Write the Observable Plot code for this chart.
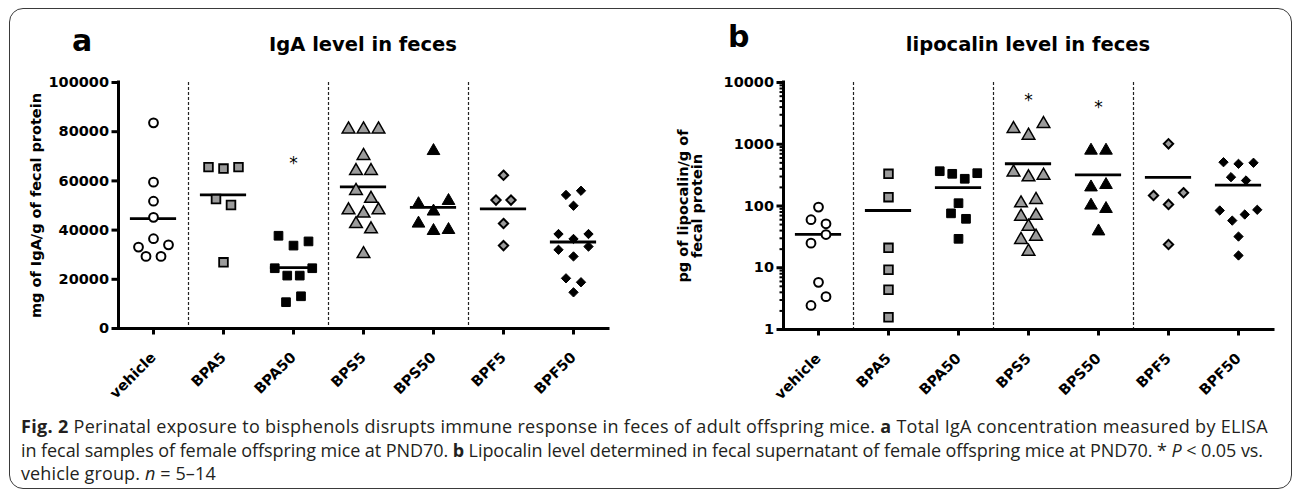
<!DOCTYPE html>
<html><head><meta charset="utf-8">
<script src="https://cdn.jsdelivr.net/npm/d3@7"></script>
<script src="https://cdn.jsdelivr.net/npm/@observablehq/plot@0.6"></script>
<style>
html,body{margin:0;background:#fff;}
body{width:1295px;height:496px;overflow:hidden;position:relative;}
#frame{position:absolute;left:9px;top:8px;width:1281px;height:479px;border:1.5px solid #3a3a3a;border-radius:14px;}
.panel{position:absolute;top:60px;}
.letter{position:absolute;font:bold 30px "DejaVu Sans";line-height:30px;color:#000;}
.title{position:absolute;font:bold 19.5px "DejaVu Sans";line-height:20px;transform:translateX(-50%);white-space:nowrap;color:#000;}
#caption{position:absolute;left:21px;top:415px;font:18px "Open Sans";line-height:23.5px;color:#231f20;white-space:nowrap;}
#caption div{height:23.5px;}
</style></head><body>
<div id="frame"></div>
<div class="letter" style="left:72px;top:26px">a</div>
<div class="title" style="left:363px;top:35px">IgA level in feces</div>
<div class="letter" style="left:728px;top:22px">b</div>
<div class="title" style="left:1028px;top:35px">lipocalin level in feces</div>
<div class="panel" id="pa" style="left:0px"></div>
<div class="panel" id="pb" style="left:647px"></div>
<div id="caption">
<div><span class="cl"><b>Fig. 2</b> Perinatal exposure to bisphenols disrupts immune response in feces of adult offspring mice. <b>a</b> Total IgA concentration measured by ELISA</span></div>
<div><span class="cl">in fecal samples of female offspring mice at PND70. <b>b</b> Lipocalin level determined in fecal supernatant of female offspring mice at PND70. * <i>P</i> &lt; 0.05 vs.</span></div>
<div><span class="cl">vehicle group. <i>n</i> = 5–14</span></div>
</div>
<script>
// ---- categories ----
const groups = ["vehicle", "BPA5", "BPA50", "BPS5", "BPS50", "BPF5", "BPF50"];

// ---- panel a: IgA (mg of IgA/g of fecal protein) ----
const igaVehicle = [83600, 59500, 51750, 45200, 33100, 36500, 34000, 29300, 29300];
const igaBPA5    = [65600, 65000, 65600, 52600, 50200, 26900];
const igaBPA50   = [37700, 33700, 35400, 24500, 21500, 21500, 24500, 10700, 13100];
const igaBPS5    = [81000, 81000, 81000, 70200, 64100, 64100, 56000, 52800, 48100, 46800, 48100, 42500, 40400, 30300];
const igaBPS50   = [72200, 50600, 47600, 51900, 42700, 39700, 40100];
const igaBPF5    = [62300, 52200, 52200, 42700, 33700];
const igaBPF50   = [54300, 56000, 49900, 38400, 36400, 38400, 32000, 29300, 33300, 20400, 18800, 14700];
const igaTicks   = [0, 20000, 40000, 60000, 80000, 100000];
const igaSigGroups = ["BPA50"];
const igaSigValues = [68000];

// ---- panel b: lipocalin (pg of lipocalin/g of fecal protein) ----
const lcnVehicle = [96, 60, 51.5, 25, 34.5, 5.8, 2.45, 3.4];
const lcnBPA5    = [332, 139, 21, 9.3, 4.4, 1.58];
const lcnBPA50   = [366, 332, 276, 340, 111, 76, 62, 29.4];
const lcnBPS5    = [1778, 1387, 2143, 352, 293, 312, 111, 126, 67.6, 70, 46.5, 28.4, 32, 18.3];
const lcnBPS50   = [792, 792, 201, 220, 102, 90, 39];
const lcnBPF5    = [1016, 148, 106, 164, 23.8];
const lcnBPF50   = [512, 482, 501, 293, 259, 84.6, 58, 72.8, 86.8, 32, 15.8];
const lcnTicks   = [1, 10, 100, 1000, 10000];
const lcnSigGroups = ["BPS5", "BPS50"];
const lcnSigValues = [5450, 4240];

// ---- styles ----
const GRAY = "#9b9b9b";
const FONT = "DejaVu Sans";
const styles = {
  vehicle: {symbol: "circle",   fill: "white", stroke: "black", r: 4.4, strokeWidth: 2},
  BPA5:    {symbol: "square",   fill: GRAY,    stroke: "black", r: 4.9, strokeWidth: 1.8},
  BPA50:   {symbol: "square",   fill: "black", stroke: "black", r: 4.9, strokeWidth: 1},
  BPS5:    {symbol: "triangle", fill: GRAY,    stroke: "black", r: 4.7, strokeWidth: 1.5},
  BPS50:   {symbol: "triangle", fill: "black", stroke: "black", r: 4.7, strokeWidth: 1},
  BPF5:    {symbol: "diamond2", fill: GRAY,    stroke: "black", r: 4.2, strokeWidth: 2},
  BPF50:   {symbol: "diamond2", fill: "black", stroke: "black", r: 4.2, strokeWidth: 1}
};

const H = 350;

// row-based column-scatter layout: returns pixel offsets
function swarmOffsets(values, yPix) {
  const py = values.map(v => yPix(v));
  const order = d3.range(values.length).sort((a, b) => py[a] - py[b] || a - b);
  const rows = [];
  let row = null, start = 0, prev = 0;
  for (const k of order) {
    if (!row || py[k] - prev > 9.5 || py[k] - start > 12) { row = []; rows.push(row); start = py[k]; }
    row.push(k); prev = py[k];
  }
  const off = new Array(values.length).fill(0);
  for (const r of rows) {
    r.sort((a, b) => a - b);
    const s = r.length >= 4 ? 12.5 : 15;
    r.forEach((k, j) => off[k] = (j - (r.length - 1) / 2) * s);
  }
  return off;
}

function makePanel({series, log, ticks, label, labelOffset, sigGroups, sigValues, width, ml, mr, mt, mb}) {
  const plotH = H - mt - mb;
  const band = (width - ml - mr) / groups.length;
  const domain = log ? [1, 10000] : [0, 100000];
  const yPix = (log ? d3.scaleLog() : d3.scaleLinear()).domain(domain).range([plotH, 0]);
  const rows = [];
  series.forEach((vals, i) => {
    const off = swarmOffsets(vals, yPix);
    vals.forEach((v, j) => rows.push({group: groups[i], i, value: v, x: i + off[j] / band}));
  });
  const means = series.map((vals, i) => ({i, mean: d3.mean(vals)}));
  const separators = groups.map((g, i) => i).filter(i => i > 0 && groups[i].slice(0, 3) !== groups[i - 1].slice(0, 3)).map(i => i - 0.5);
  const sig = sigGroups.map((g, k) => ({i: groups.indexOf(g), value: sigValues[k]}));
  const minor = log ? d3.range(0, 4).flatMap(e => d3.range(2, 10).map(m => m * 10 ** e)) : [];
  const textStyle = {fontFamily: FONT, fontWeight: "bold", fontSize: 14.5};
  const marks = [
    Plot.ruleX(separators, {stroke: "#222", strokeWidth: 1.2, strokeDasharray: "3,2"}),
    Plot.ruleY(means, {y: "mean", x1: d => d.i - 0.33, x2: d => d.i + 0.33, stroke: "black", strokeWidth: 2.8}),
    ...groups.map(g => Plot.dot(rows.filter(d => d.group === g), {x: "x", y: "value", ...styles[g]})),
    Plot.text(sig, {x: "i", y: "value", text: () => "*", fontFamily: FONT, fontSize: 17, fontWeight: "normal", dy: 2}),
  ];
  if (log) marks.push(Plot.axisY(minor, {tickSize: 3.5, strokeWidth: 2, tickFormat: () => "", label: null}));
  marks.push(
    Plot.axisY(ticks, {...textStyle, tickSize: 6.5, tickPadding: 3, strokeWidth: 3, tickFormat: d => String(d),
      label, labelAnchor: "center", labelOffset, labelArrow: false}),
    Plot.axisX(groups.map((g, i) => i), {...textStyle, tickFormat: i => groups[i], tickRotate: -45, tickSize: 6.5, tickPadding: 20, strokeWidth: 3, label: null}),
    Plot.ruleX([-0.5], {stroke: "black", strokeWidth: 3, strokeLinecap: "square"}),
    Plot.ruleY([domain[0]], {stroke: "black", strokeWidth: 3, strokeLinecap: "square"})
  );
  return Plot.plot({
    width, height: H, marginTop: mt, marginBottom: mb, marginLeft: ml, marginRight: mr,
    style: {fontFamily: FONT, fontWeight: "bold", fontSize: "14.5px", color: "black", background: "transparent", overflow: "visible"},
    x: {domain: [-0.5, groups.length - 0.5]},
    y: log ? {type: "log", domain} : {domain},
    marks
  });
}

document.getElementById("pa").append(makePanel({
  series: [igaVehicle, igaBPA5, igaBPA50, igaBPS5, igaBPS50, igaBPF5, igaBPF50],
  log: false, ticks: igaTicks, label: "mg of IgA/g of fecal protein", labelOffset: 88,
  sigGroups: igaSigGroups, sigValues: igaSigValues,
  width: 647, ml: 118, mr: 39, mt: 22, mb: 82
}));
document.getElementById("pb").append(makePanel({
  series: [lcnVehicle, lcnBPA5, lcnBPA50, lcnBPS5, lcnBPS50, lcnBPF5, lcnBPF50],
  log: true, ticks: lcnTicks, label: "pg of lipocalin/g of\nfecal protein", labelOffset: 106,
  sigGroups: lcnSigGroups, sigValues: lcnSigValues,
  width: 648, ml: 136, mr: 22, mt: 22, mb: 81
}));

// caption: fit line widths to the reference text block
const capLines = [...document.querySelectorAll("#caption .cl")];
const capTargets = [1247, 1242];
let lsSum = 0;
capLines.slice(0, 2).forEach((el, k) => {
  const w = el.getBoundingClientRect().width;
  const ls = (capTargets[k] - w) / el.textContent.length;
  el.style.letterSpacing = ls + "px";
  lsSum += ls;
});
capLines[2].style.letterSpacing = (lsSum / 2) + "px";
</script>
</body></html>
